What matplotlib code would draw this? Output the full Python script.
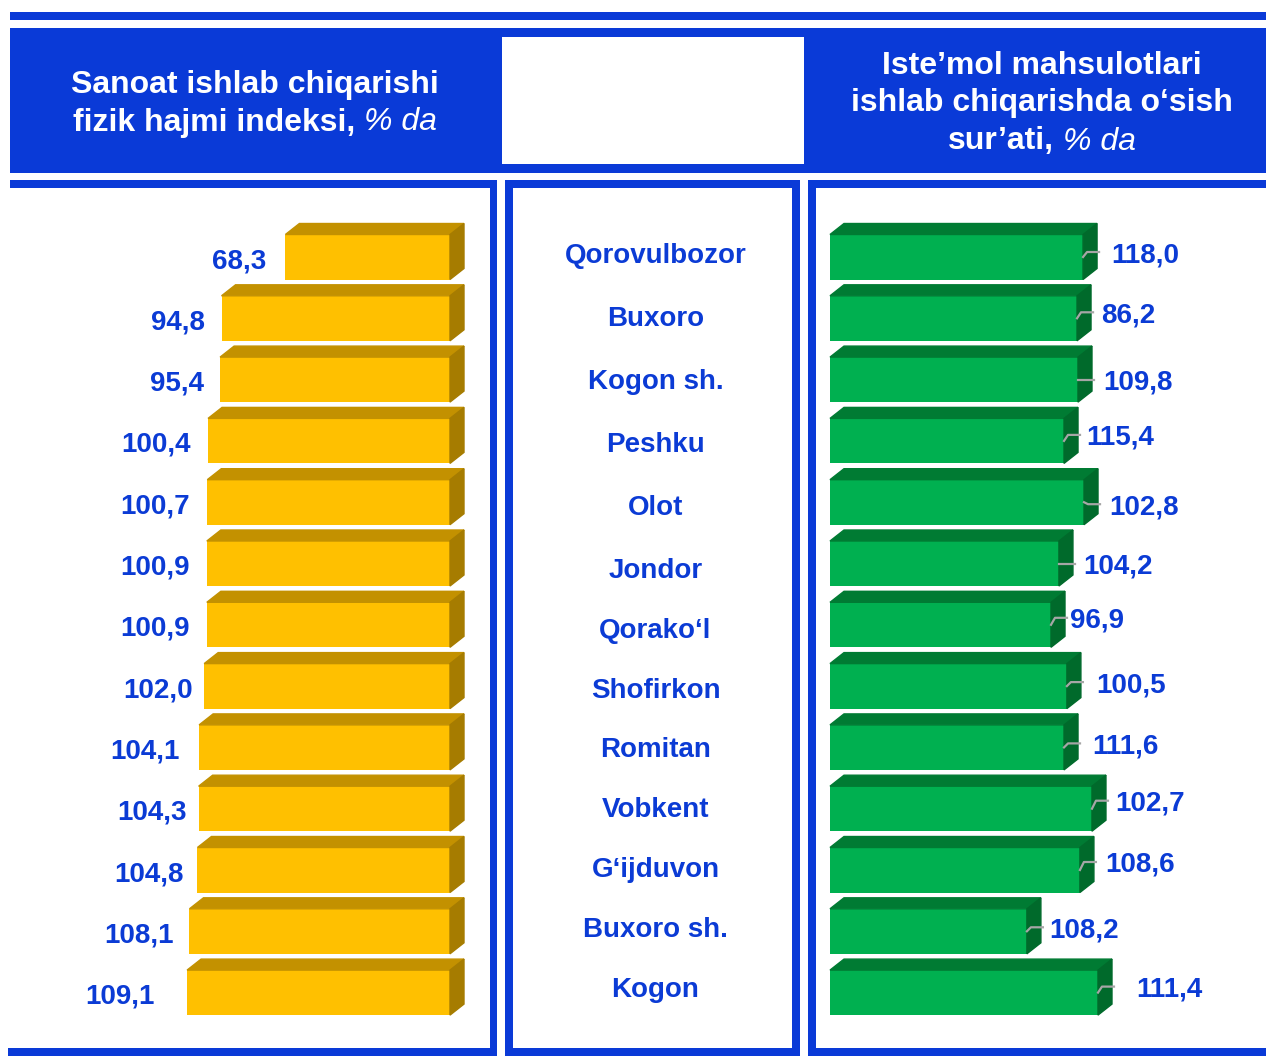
import matplotlib
matplotlib.use("Agg")
import matplotlib.pyplot as plt
from matplotlib.patches import Polygon, Rectangle
import numpy as np

plt.rcParams["font.family"] = ["Liberation Sans", "DejaVu Sans"]

# ---- data ----
districts = ["Qorovulbozor", "Buxoro", "Kogon sh.", "Peshku", "Olot", "Jondor",
             "Qorako‘l", "Shofirkon", "Romitan", "Vobkent", "G‘ijduvon",
             "Buxoro sh.", "Kogon"]
industry_index = [68.3, 94.8, 95.4, 100.4, 100.7, 100.9, 100.9, 102.0,
                  104.1, 104.3, 104.8, 108.1, 109.1]
consumer_growth = [118.0, 86.2, 109.8, 115.4, 102.8, 104.2, 96.9, 100.5,
                   111.6, 102.7, 108.6, 108.2, 111.4]
# the green bars in the source are not drawn to their labels,
# so these are the lengths as they appear (same scale as the yellow ones)
consumer_bar = [105.0, 102.5, 102.9, 97.1, 105.4, 95.0, 91.7, 98.3,
                97.1, 108.7, 103.7, 81.7, 111.2]

# ---- layout (pixels) ----
W, H = 1266, 1061
PX = 2.41            # pixels per value unit
ROW0, ROW_STEP = 257, 61.3
BAR_H = 45
DEPTH = (14, 11)
BLUE = "#0A3AD7"
LBL = "#0B3BD5"

# label nudges (pixels): gap from bar, vertical shift
yellow_gap = [19, 17, 16, 17, 17, 17, 17, 11, 19, 12, 14, 16, 32]
green_gap = [13, 9, 10, 7, 10, 9, 4, 14, 13, 8, 10, 7, 23]
green_dy = [-5, -6, 0, -6, 2, 0, -7, -4, -4, -8, -8, -4, -6]
middle_dy = [-3, -1, 0, 2, 4, 5, 4, 3, 1, -1, -2, -3, -5]

fig = plt.figure(figsize=(W / 100, H / 100), dpi=100)


def px_axes(x0, y0, x1, y1, **kw):
    ax = fig.add_axes([x0 / W, 1 - y1 / H, (x1 - x0) / W, (y1 - y0) / H], **kw)
    ax.set_ylim((y1 - ROW0) / ROW_STEP, (y0 - ROW0) / ROW_STEP)
    ax.axis("off")
    ax.patch.set_alpha(0)
    return ax


def bars_3d(ax, lengths, front, top, side):
    x0, x1 = ax.get_xlim()
    y0, y1 = ax.get_ylim()
    bb = ax.get_position()
    wpx, hpx = bb.width * W, bb.height * H
    ddx = DEPTH[0] * (x1 - x0) / wpx
    ddy = DEPTH[1] * (y1 - y0) / hpx
    h = BAR_H * abs(y1 - y0) / hpx
    rows = np.arange(len(lengths))
    ax.barh(rows, lengths, height=h, color=front, zorder=2)
    for i, v in zip(rows, lengths):
        te, be = i - h / 2, i + h / 2
        xr = v if ddx > 0 else 0
        ax.add_patch(Polygon([(0, te), (v, te), (v + ddx, te + ddy), (ddx, te + ddy)],
                             closed=True, color=top, zorder=2))
        ax.add_patch(Polygon([(xr, te), (xr, be), (xr + ddx, be + ddy), (xr + ddx, te + ddy)],
                             closed=True, color=side, zorder=2))


# ---- background frame ----
deco = fig.add_axes([0, 0, 1, 1])
deco.set_xlim(0, W)
deco.set_ylim(H, 0)
deco.axis("off")


def box(x0, y0, x1, y1, c=BLUE):
    deco.add_patch(Rectangle((x0, y0), x1 - x0, y1 - y0, color=c, lw=0))


box(10, 12, 1266, 20)
box(10, 28, 1266, 173)
box(502, 37, 804, 164, "white")
# left panel
box(10, 180, 497, 188)
box(490, 180, 497, 1056)
box(8, 1048, 497, 1056)
# middle panel
box(505, 180, 800, 188)
box(505, 1048, 800, 1056)
box(505, 180, 513, 1056)
box(792, 180, 800, 1056)
# right panel
box(808, 180, 816, 1056)
box(808, 180, 1266, 188)
box(808, 1048, 1266, 1056)

# ---- header texts ----
HEAD_FS = 23
BOLD = dict(weight="bold")
ITAL = dict(style="italic", weight="normal")


def header_line(xc, y, parts, space=9):
    texts = [deco.text(0, y, s, color="white", fontsize=HEAD_FS, ha="left",
                       va="center_baseline", **st) for s, st in parts]
    fig.canvas.draw()
    r = fig.canvas.get_renderer()
    widths = [t.get_window_extent(r).width for t in texts]
    x = xc - (sum(widths) + space * (len(texts) - 1)) / 2
    for t, w in zip(texts, widths):
        t.set_x(x)
        x += w + space


header_line(255, 82, [("Sanoat ishlab chiqarishi", BOLD)])
header_line(255, 119, [("fizik hajmi indeksi,", BOLD), ("% da", ITAL)])
header_line(1042, 63, [("Iste’mol mahsulotlari", BOLD)])
header_line(1042, 100, [("ishlab chiqarishda o‘sish", BOLD)])
header_line(1042, 138, [("sur’ati,", BOLD), ("% da", ITAL)])

# ---- left panel: industry index ----
axl = px_axes(10, 188, 488, 1048)
axl.set_xlim((450 - 10) / PX, (450 - 488) / PX)
bars_3d(axl, industry_index, "#FFC000", "#C39100", "#A67C00")
for i, v in enumerate(industry_index):
    axl.text(v + yellow_gap[i] / PX, i + 1 / ROW_STEP, f"{v:.1f}".replace(".", ","),
             ha="right", va="center_baseline", fontsize=20, weight="bold", color=LBL)

# ---- middle panel: districts ----
axm = px_axes(519, 188, 792, 1048)
axm.set_xlim(0, 1)
for i, name in enumerate(districts):
    axm.text(0.5, i + (middle_dy[i] - 1) / ROW_STEP, name, ha="center",
             va="center_baseline", fontsize=20, weight="bold", color=LBL)

# ---- right panel: consumer goods growth ----
axr = px_axes(816, 188, 1266, 1048)
axr.set_xlim((816 - 830) / PX, (1266 - 830) / PX)
bars_3d(axr, consumer_bar, "#00B050", "#007B33", "#006A2B")
for i, (v, b) in enumerate(zip(consumer_growth, consumer_bar)):
    ly = i + green_dy[i] / ROW_STEP
    axr.plot([b, b + 4 / PX, b + 16 / PX], [i, ly, ly], color="#A6A6A6",
             lw=1.6, zorder=3, solid_joinstyle="round")
    axr.text(b + (15 + green_gap[i]) / PX, ly, f"{v:.1f}".replace(".", ","),
             ha="left", va="center_baseline", fontsize=20, weight="bold", color=LBL)

fig.savefig("out.png", dpi=100)
